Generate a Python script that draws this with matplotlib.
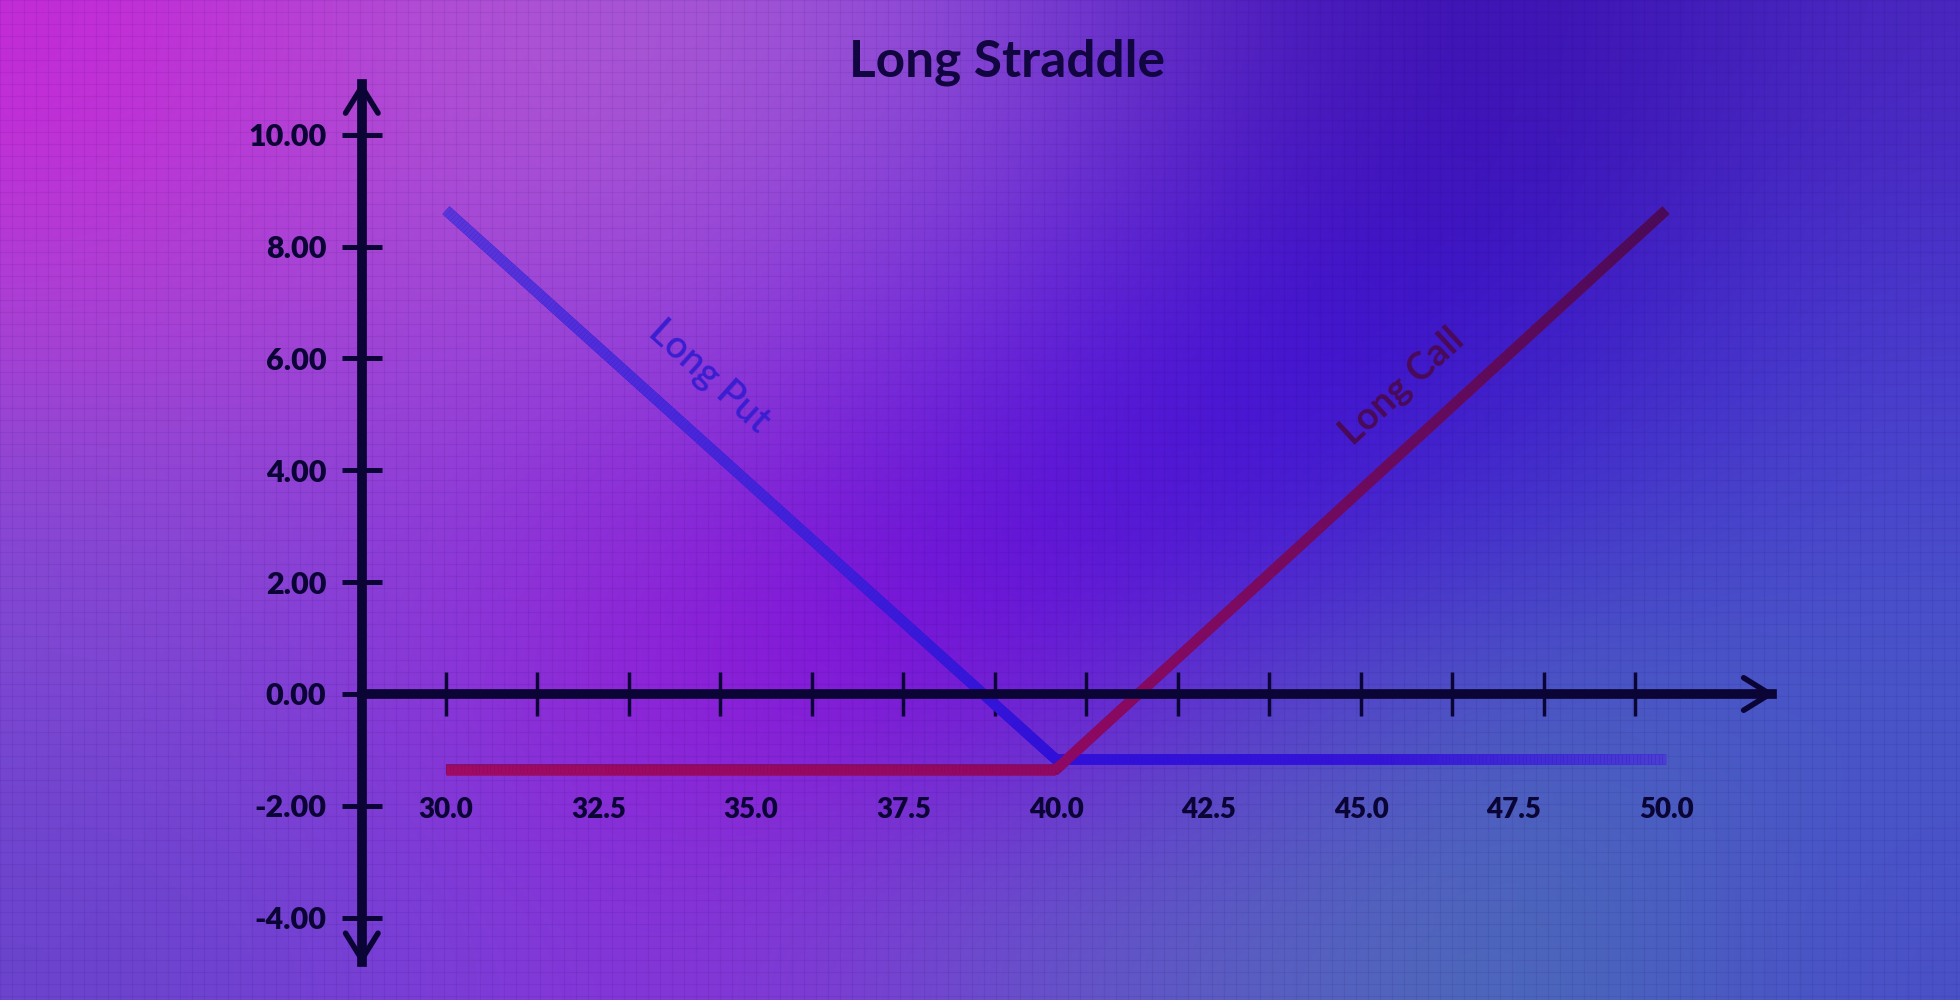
"""Long straddle payoff diagram on a gradient backdrop."""
import numpy as np
import matplotlib
matplotlib.use("Agg")
import matplotlib.pyplot as plt
from matplotlib.collections import LineCollection
from matplotlib.colors import LinearSegmentedColormap, to_rgb

# --- data ---------------------------------------------------------------
put_x = [30.0, 40.0, 50.0]
put_y = [8.65, -1.17, -1.17]
call_x = [30.0, 40.0, 50.0]
call_y = [-1.35, -1.35, 8.65]
y_ticks = [-4, -2, 0, 2, 4, 6, 8, 10]
x_labels = [30.0, 32.5, 35.0, 37.5, 40.0, 42.5, 45.0, 47.5, 50.0]
x_marks = [30.0, 31.5, 33.0, 34.5, 36.0, 37.5, 39.0, 40.5, 42.0, 43.5, 45.0, 46.5, 48.0, 49.5]

NAVY = "#0b0535"
FONT = ["Lato", "DejaVu Sans"]
plt.rcParams.update({"font.family": FONT})

# backdrop colour control points (rows top->bottom, cols left->right)
BG = [
    ["#c42ad6", "#b050d4", "#a858d4", "#8a48d8", "#4a1cbc", "#3a10b0", "#4a28c0"],
    ["#b040d4", "#a048d6", "#9a48d8", "#7030d8", "#4010d0", "#3a14c4", "#4a38cc"],
    ["#8848d2", "#9040d8", "#8a28d8", "#6010d8", "#4412d4", "#4430cc", "#4a48cc"],
    ["#7a48d2", "#8a38d8", "#9418d8", "#7a10d8", "#5a40cc", "#4a60c0", "#4a58c8"],
    ["#6a44cc", "#7a40d8", "#8a30d8", "#6a50cc", "#5860c0", "#4a6cb8", "#4a50c8"],
]

W, H = 1960, 1000
fig = plt.figure(figsize=(W / 100, H / 100), dpi=100)

bg = fig.add_axes([0, 0, 1, 1])
img = np.array([[to_rgb(c) for c in row] for row in BG])
bg.imshow(img, extent=(0, W, H, 0), interpolation="bicubic", aspect="auto")
for gx in np.arange(0, W, 12):
    bg.axvline(gx, color="#1a0860", lw=0.8, alpha=0.08)
for gy in np.arange(0, H, 12):
    bg.axhline(gy, color="#1a0860", lw=0.8, alpha=0.08)
bg.set_xlim(0, W)
bg.set_ylim(H, 0)
bg.axis("off")

ax = fig.add_axes([0, 0, 1, 1])
ax.patch.set_alpha(0)
ax.set_xlim(22.689, 54.82)
ax.set_ylim(-5.471, 12.408)

# axes as arrows
YAX, XEND, YTOP, YBOT = 28.62, 51.79, 10.95, -4.84
for side in ("top", "right"):
    ax.spines[side].set_visible(False)
ax.spines["left"].set_position(("data", YAX))
ax.spines["bottom"].set_position(("data", 0))
ax.spines["left"].set_bounds(YBOT + 0.05, YTOP - 0.05)
ax.spines["bottom"].set_bounds(YAX, XEND - 0.05)
for side in ("left", "bottom"):
    ax.spines[side].set_linewidth(7)
    ax.spines[side].set_color(NAVY)
    ax.spines[side].set_zorder(5)

head = dict(arrowstyle="->,head_length=0.42,head_width=0.26", lw=4,
            color=NAVY, mutation_scale=45, shrinkA=0, shrinkB=0)
ax.annotate("", xy=(YAX, YTOP), xytext=(YAX, YTOP - 1), arrowprops=head, zorder=6)
ax.annotate("", xy=(YAX, YBOT), xytext=(YAX, YBOT + 1), arrowprops=head, zorder=6)
ax.annotate("", xy=(XEND, 0), xytext=(XEND - 1, 0), arrowprops=head, zorder=6)

ax.set_yticks(y_ticks)
ax.set_yticklabels([f"{v:.2f}" for v in y_ticks], fontsize=22, fontweight="heavy", color=NAVY)
ax.tick_params(axis="y", direction="inout", length=29, width=3.6, color=NAVY, pad=11)
ax.set_xticks(x_marks)
ax.set_xticklabels([])
ax.tick_params(axis="x", direction="inout", length=32, width=2.5, color=NAVY)

for v in x_labels:
    ax.text(v, -2.217, f"{v:.1f}", ha="center", va="baseline", fontsize=20,
            fontweight="heavy", color=NAVY)


def gradient_line(xs, ys, stops, lw=7.6):
    t = np.linspace(0, 1, 400)
    seg_len = np.hypot(np.diff(xs), np.diff(ys))
    cum = np.concatenate([[0], np.cumsum(seg_len)]) / seg_len.sum()
    px = np.interp(t, cum, xs)
    py = np.interp(t, cum, ys)
    pts = np.column_stack([px, py]).reshape(-1, 1, 2)
    segs = np.concatenate([pts[:-1], pts[1:]], axis=1)
    cmap = LinearSegmentedColormap.from_list("g", stops)
    ax.plot(xs, ys, color=stops[len(stops) // 2][1], lw=lw,
            solid_joinstyle="miter", solid_capstyle="butt", zorder=3)
    lc = LineCollection(segs, colors=cmap(t[:-1]), linewidths=lw,
                        capstyle="butt", zorder=4)
    ax.add_collection(lc)


gradient_line(put_x, put_y, [(0.0, "#5a36d8"), (0.35, "#4020d8"), (0.58, "#3010d8"),
                             (0.8, "#3414d6"), (1.0, "#4a3ed0")])
gradient_line(call_x, call_y, [(0.0, "#a00a62"), (0.42, "#900860"), (0.6, "#7a0a60"),
                               (1.0, "#480a58")])

ax.text(34.31, 5.67, "Long Put", rotation=-42, ha="center", va="center",
        fontsize=27, fontweight="semibold", color="#3a1ed0", rotation_mode="anchor")
ax.text(45.67, 5.49, "Long Call", rotation=42.5, ha="center", va="center",
        fontsize=27, fontweight="bold", color="#4a0a58", rotation_mode="anchor")

fig.text(1007 / W, 1 - 77 / H, "Long Straddle", ha="center", va="baseline",
         fontsize=37, fontweight="bold", color="#120640")

fig.savefig("out.png", dpi=100)
